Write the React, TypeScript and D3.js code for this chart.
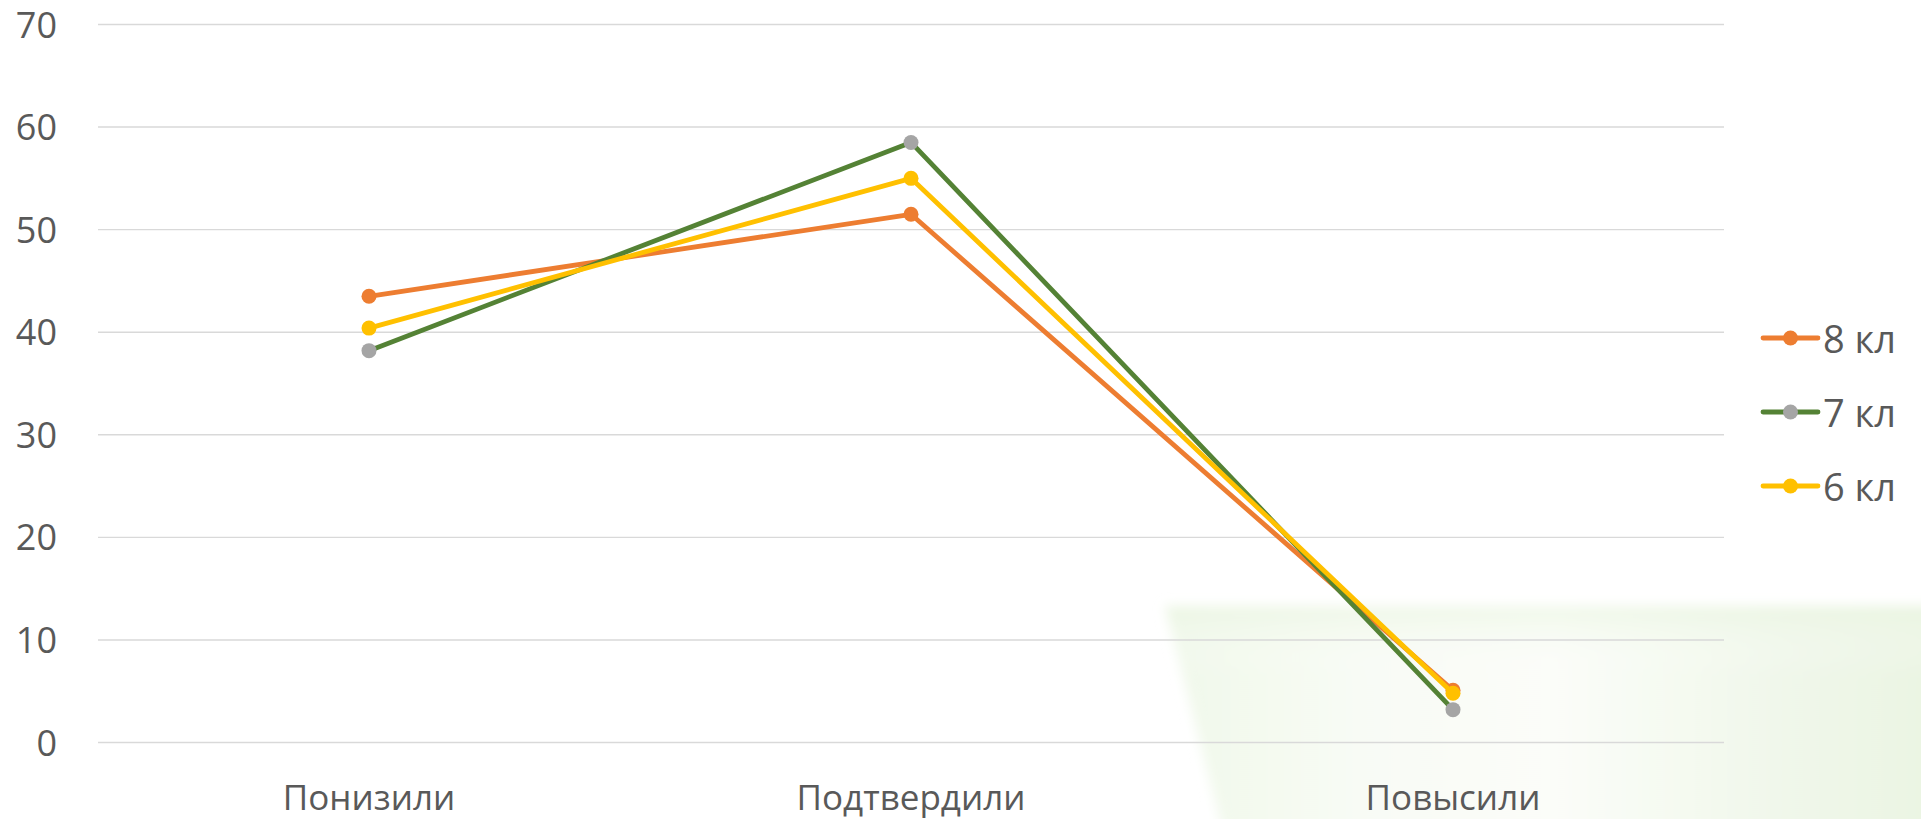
import React from "react";
import * as d3 from "d3";

const categories = ["Понизили", "Подтвердили", "Повысили"];
const seriesNames = ["8 кл", "7 кл", "6 кл"];
const values8 = [43.5, 51.5, 5.1];
const values7 = [38.2, 58.5, 3.2];
const values6 = [40.4, 55.0, 4.8];
const yTicks = [0, 10, 20, 30, 40, 50, 60, 70];

const lineColors = ["#ED7D31", "#548235", "#FFC000"];
const markerColors = ["#ED7D31", "#A5A5A5", "#FFC000"];

const W = 1921;
const H = 819;
const FONT = "'Open Sans', 'Noto Sans', sans-serif";

export default function App() {
  const series = [values8, values7, values6];
  const x = d3.scaleBand<string>().domain(categories).range([98, 1724]).padding(0);
  const y = d3.scaleLinear().domain([0, 70]).range([742.5, 24.5]);
  const cx = (c: string) => (x(c) ?? 0) + x.bandwidth() / 2;
  const line = d3
    .line<number>()
    .x((_, i) => cx(categories[i]))
    .y((d) => y(d));

  const legendX = 1763;
  const legendY0 = 338;
  const legendStep = 74;

  return (
    <svg
      width={W}
      height={H}
      style={{ position: "absolute", left: 0, top: 0, background: "#fff" }}
      fontFamily={FONT}
    >
      <defs>
        <linearGradient id="bgH" x1="0" x2="1" y1="0" y2="0">
          <stop offset="0" stopColor="#F0F8EA" />
          <stop offset="0.25" stopColor="#F8FBF5" />
          <stop offset="0.5" stopColor="#FBFDF9" />
          <stop offset="0.8" stopColor="#F0F7EA" />
          <stop offset="1" stopColor="#EAF4E2" />
        </linearGradient>
        <linearGradient id="bgV" x1="0" x2="0" y1="0" y2="1">
          <stop offset="0" stopColor="#E8F4DE" stopOpacity="0.6" />
          <stop offset="0.3" stopColor="#FFFFFF" stopOpacity="0" />
          <stop offset="1" stopColor="#FFFFFF" stopOpacity="0" />
        </linearGradient>
        <filter id="soft" x="-5%" y="-10%" width="110%" height="120%">
          <feGaussianBlur stdDeviation="6" />
        </filter>
      </defs>
      <g filter="url(#soft)">
        <polygon points="1165,606 1940,606 1940,840 1225,840" fill="url(#bgH)" />
        <polygon points="1165,606 1940,606 1940,840 1225,840" fill="url(#bgV)" />
      </g>

      {yTicks.map((t) => (
        <g key={t}>
          <line x1={98} x2={1724} y1={y(t)} y2={y(t)} stroke="#D9D9D9" strokeWidth={1.4} />
          <text x={57} y={y(t) + 13} textAnchor="end" fontSize={36} fill="#595959">
            {t}
          </text>
        </g>
      ))}

      {categories.map((c) => (
        <text key={c} x={cx(c)} y={810} textAnchor="middle" fontSize={35} fill="#595959">
          {c}
        </text>
      ))}

      {series.map((vals, si) => (
        <g key={seriesNames[si]}>
          <path
            d={line(vals) ?? ""}
            fill="none"
            stroke={lineColors[si]}
            strokeWidth={4.8}
            strokeLinejoin="round"
            strokeLinecap="round"
          />
          {vals.map((v, i) => (
            <circle key={i} cx={cx(categories[i])} cy={y(v)} r={7.5} fill={markerColors[si]} />
          ))}
        </g>
      ))}

      {seriesNames.map((name, si) => {
        const ly = legendY0 + si * legendStep;
        return (
          <g key={name}>
            <line
              x1={legendX}
              x2={legendX + 55}
              y1={ly}
              y2={ly}
              stroke={lineColors[si]}
              strokeWidth={4.8}
              strokeLinecap="round"
            />
            <circle cx={legendX + 27.5} cy={ly} r={7.5} fill={markerColors[si]} />
            <text x={legendX + 60} y={ly + 15} fontSize={38} fill="#595959">
              {name}
            </text>
          </g>
        );
      })}
    </svg>
  );
}
